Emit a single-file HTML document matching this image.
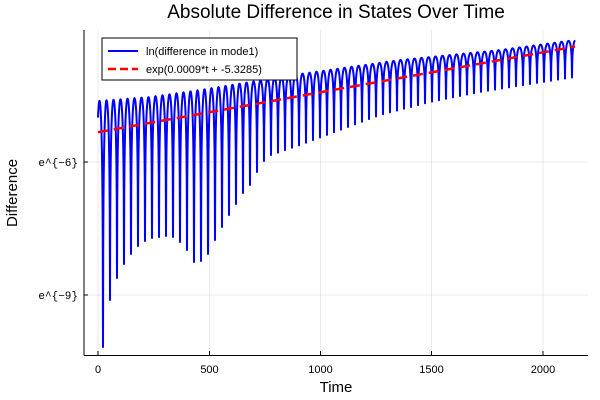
<!DOCTYPE html>
<html><head><meta charset="utf-8"><style>
body{margin:0;background:#fff}
svg{display:block;font-family:"Liberation Sans",sans-serif}
</style></head><body>
<svg id="s" width="600" height="400" xmlns="http://www.w3.org/2000/svg">
<rect width="600" height="400" fill="#fff"/>
<g stroke="#000" stroke-opacity="0.08" stroke-width="1">
<line x1="98" y1="30" x2="98" y2="355"/><line x1="209.5" y1="30" x2="209.5" y2="355"/>
<line x1="320.5" y1="30" x2="320.5" y2="355"/><line x1="431.5" y1="30" x2="431.5" y2="355"/>
<line x1="543" y1="30" x2="543" y2="355"/>
<line x1="84" y1="162" x2="588" y2="162"/><line x1="84" y1="295" x2="588" y2="295"/>
</g>
<g stroke="#000" stroke-width="1">
<line x1="84" y1="30" x2="84" y2="355.5"/><line x1="84" y1="355.5" x2="588" y2="355.5"/>
<line x1="98" y1="355" x2="98" y2="351"/><line x1="209.5" y1="355" x2="209.5" y2="351"/>
<line x1="320.5" y1="355" x2="320.5" y2="351"/><line x1="431.5" y1="355" x2="431.5" y2="351"/>
<line x1="543" y1="355" x2="543" y2="351"/>
<line x1="84" y1="162" x2="88" y2="162"/><line x1="84" y1="295" x2="88" y2="295"/>
</g>
<g font-size="11" fill="#000" text-anchor="middle">
<text x="98" y="373">0</text><text x="209.5" y="373">500</text><text x="320.5" y="373">1000</text>
<text x="431.5" y="373">1500</text><text x="543" y="373">2000</text>
</g>
<g font-size="11" fill="#000" text-anchor="end" font-family="Liberation Mono,monospace">
<text x="78" y="166">e^{−6}</text><text x="78" y="299">e^{−9}</text>
</g>
<text x="336" y="392" font-size="15" text-anchor="middle">Time</text>
<text x="17" y="193" font-size="15" text-anchor="middle" transform="rotate(-90 17 193)">Difference</text>
<text x="336" y="18" font-size="19" text-anchor="middle">Absolute Difference in States Over Time</text>
<path id="blue" fill="none" stroke="#0000ff" stroke-width="2" stroke-linejoin="round"/>
<line x1="98" y1="132.2" x2="575" y2="46.6" stroke="#ff0000" stroke-width="2.5" stroke-dasharray="10,6"/>
<rect x="102" y="38" width="195" height="42" fill="#fff" stroke="#000" stroke-width="1"/>
<line x1="108" y1="51" x2="138" y2="51" stroke="#0000ff" stroke-width="2"/>
<line x1="108" y1="69" x2="138" y2="69" stroke="#ff0000" stroke-width="2.5" stroke-dasharray="8,4"/>
<text x="146" y="55" font-size="11">ln(difference in mode1)</text>
<text x="146" y="73" font-size="11">exp(0.0009*t + -5.3285)</text>
</svg>
<script>
function interp(pts,x){for(let i=0;i<pts.length-1;i++){if(x<=pts[i+1][0]){const a=pts[i],b=pts[i+1];return a[1]+(b[1]-a[1])*(x-a[0])/(b[0]-a[0]);}}return pts[pts.length-1][1];}
const peak=[[98,101],[150,97],[200,90],[250,82],[300,74],[350,67],[400,60],[450,55],[500,50],[575,40]];
const dip=[[103,347],[110,300],[117,278],[124,264],[131,254],[138,246],[145,241],[152,238],[166,236],[173,237],[180,242],[187,250],[194,262],[201,261],[208,254],[215,240],[222,227],[229,215],[236,204],[243,193],[250,185],[257,172],[264,161],[271,155],[300,145],[340,130],[380,115],[430,102],[480,92],[530,84],[575,77]];
let d="",e=0.03,L=Math.log(e);
for(let x=98;x<=575;x+=0.25){
 let ph=(x-103)/7; let s=Math.abs(Math.sin(Math.PI*ph));
 let f=Math.log(s+e)/L; f=Math.max(0,Math.min(1,(f-Math.log(1+e)/L)/(1-Math.log(1+e)/L)));
 let k=Math.round(ph)*7+103;
 let p=interp(peak,x), q=interp(dip,Math.max(103,k));
 let y=p+(q-p)*f;
 d+=(d?"L":"M")+x.toFixed(2)+","+y.toFixed(2);
}
document.getElementById("blue").setAttribute("d",d);
</script>
</body></html>
